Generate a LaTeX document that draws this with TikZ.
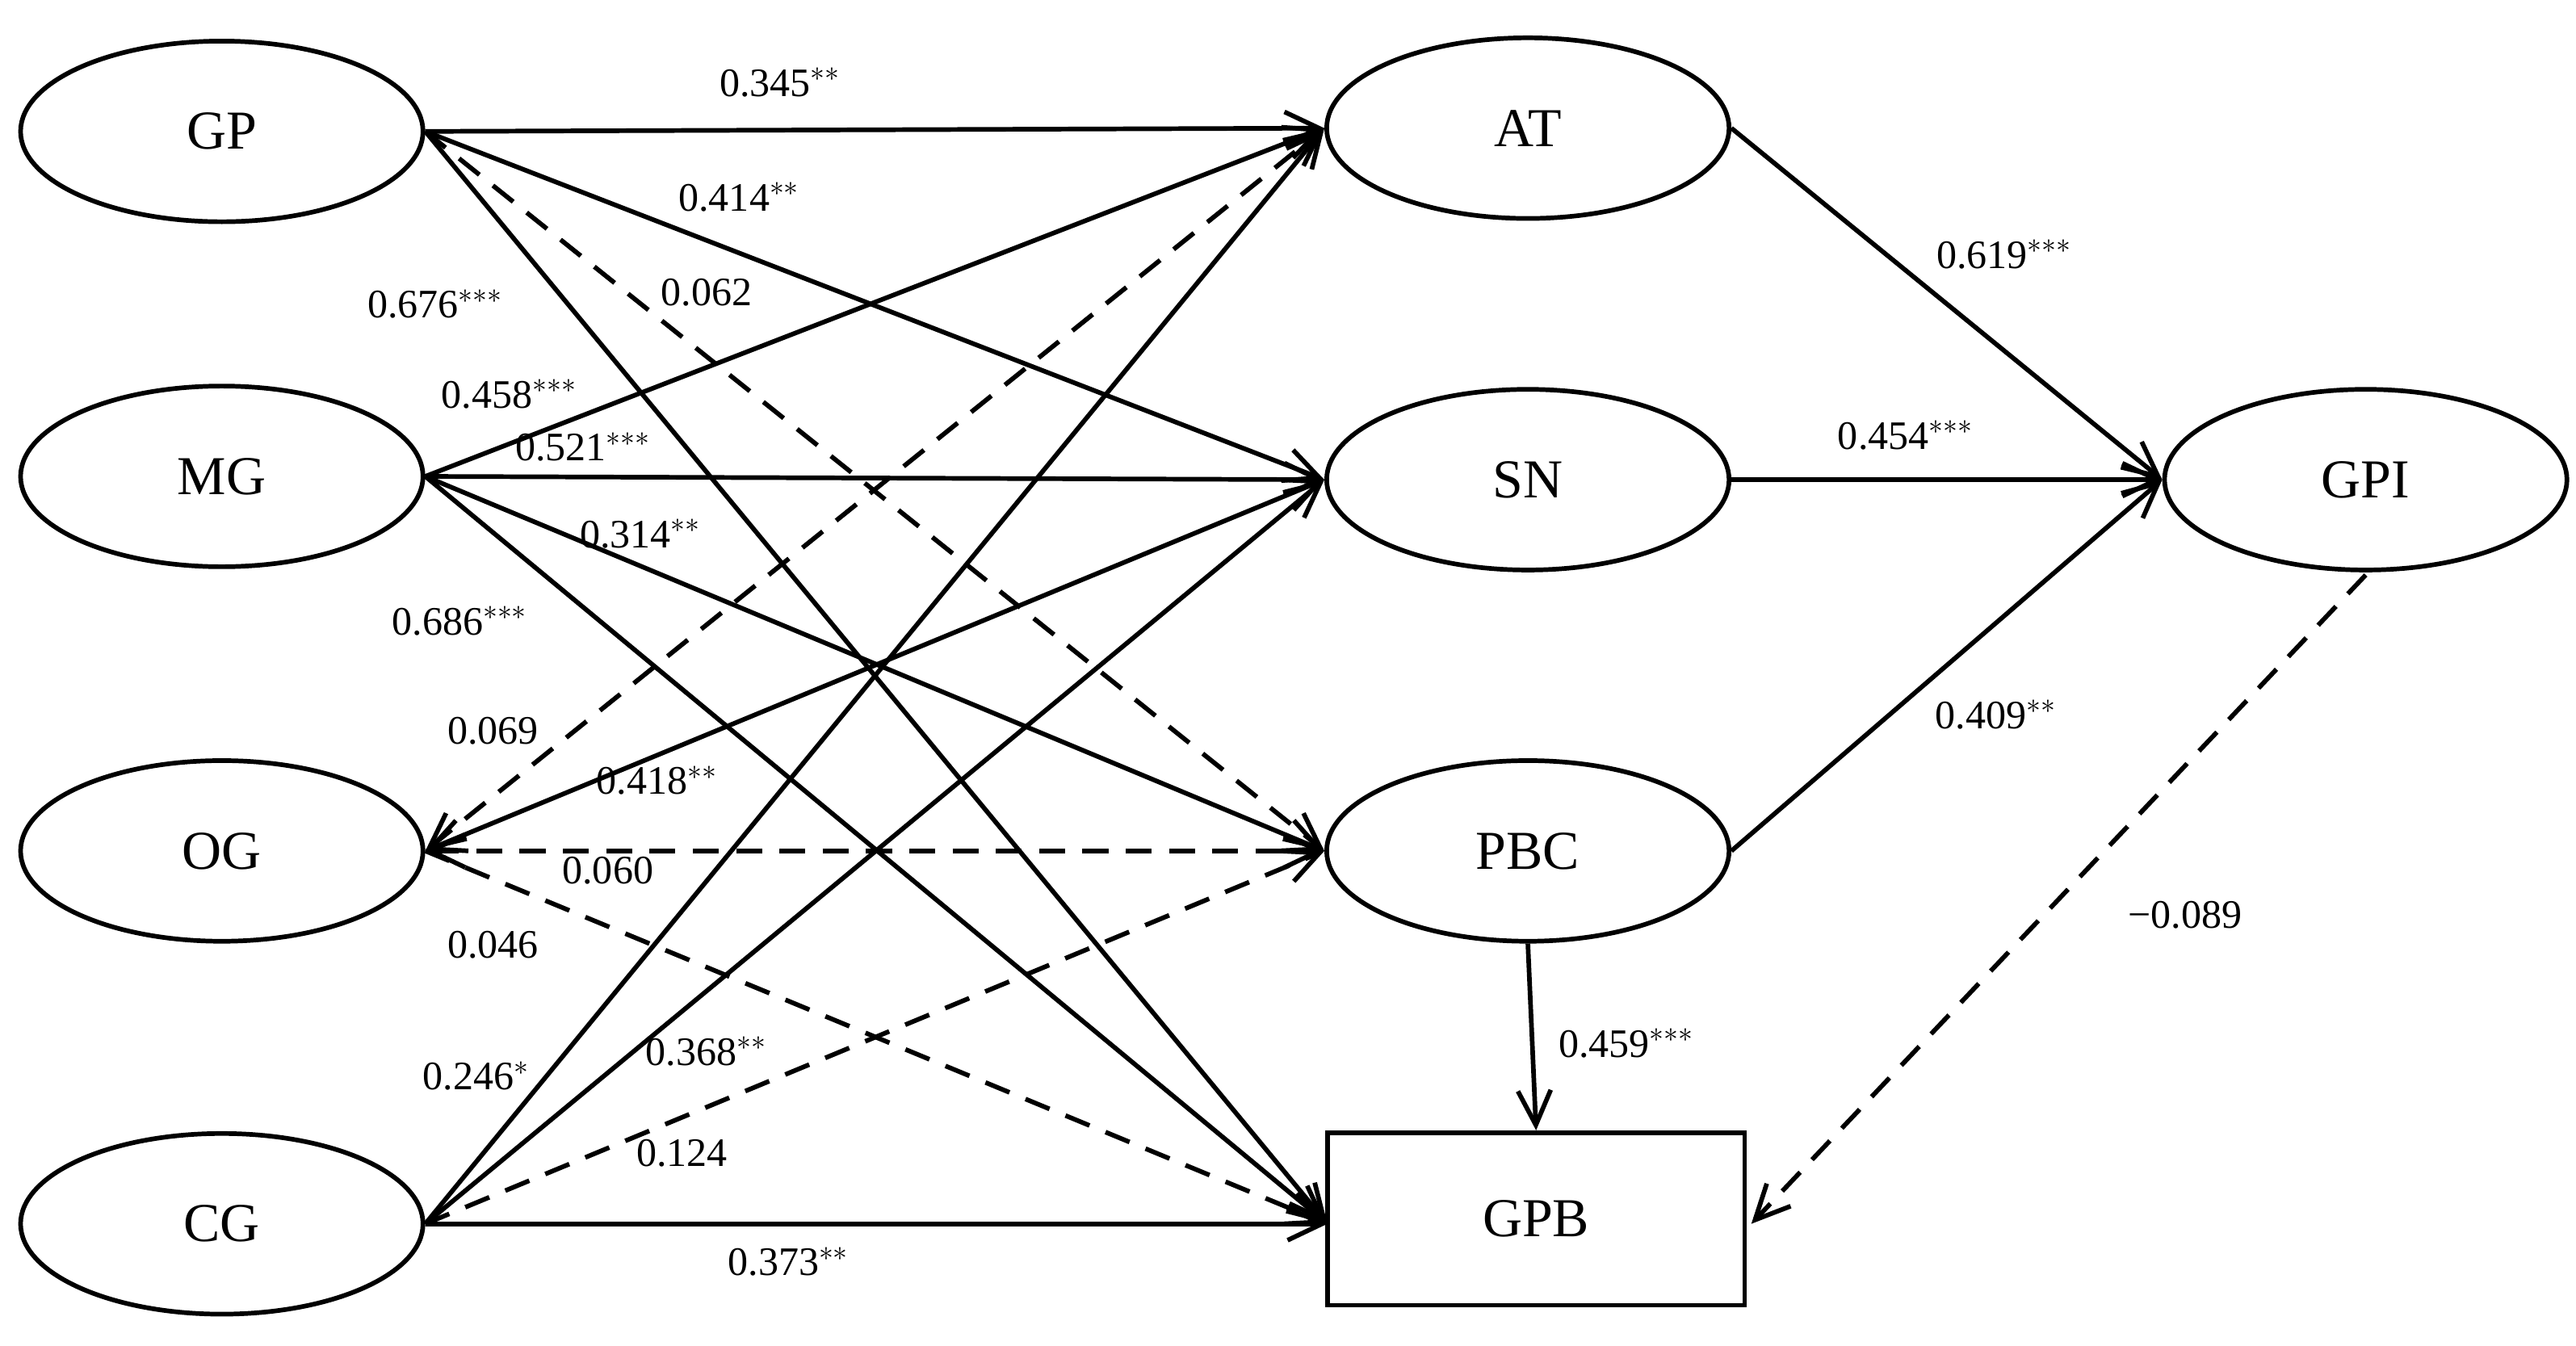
\documentclass[tikz,border=0pt]{standalone}
\usepackage{fontspec}
\setmainfont{Liberation Serif}
\usetikzlibrary{arrows.meta,shapes.geometric}
\begin{document}
\begin{tikzpicture}[x=0.02cm,y=-0.02cm,
  el/.style={draw,ellipse,line width=1.6pt,minimum width=4.9cm,minimum height=2.2cm,font=\fontsize{19}{20}\selectfont},
  ar/.style={line width=1.6pt,-{Straight Barb[length=0.42cm,width=0.4cm,line width=1.6pt]}},
  ba/.style={line width=1.6pt,{Straight Barb[length=0.42cm,width=0.4cm,line width=1.6pt]}-{Straight Barb[length=0.42cm,width=0.4cm,line width=1.6pt]}},
  da/.style={dash pattern=on 9pt off 6pt},
  lb/.style={font=\fontsize{14}{15}\selectfont,inner sep=1pt}]
\useasboundingbox (0,0) rectangle (1568,819);
\node[el] (GP) at (135,80) {GP};
\node[el] (MG) at (135,290) {MG};
\node[el] (OG) at (135,518) {OG};
\node[el] (CG) at (135,745) {CG};
\node[el] (AT) at (930,78) {AT};
\node[el] (SN) at (930,292) {SN};
\node[el] (PBC) at (930,518) {PBC};
\node[el] (GPI) at (1440,292) {GPI};
\node[draw,line width=1.6pt,minimum width=5.08cm,minimum height=2.1cm,font=\fontsize{19}{20}\selectfont] (GPB) at (935,742) {GPB};
\coordinate (GPBw) at (808,745);
\coordinate (GPIb) at (1440,350);
\coordinate (GPBr) at (1066,745);
% GP
\draw[ar] (GP.east) -- (AT.west);
\draw[ar] (GP.east) -- (SN.west);
\draw[ar,da] (GP.east) -- (PBC.west);
\draw[ar] (GP.east) -- (GPBw);
% MG
\draw[ar] (MG.east) -- (AT.west);
\draw[ar] (MG.east) -- (SN.west);
\draw[ar] (MG.east) -- (PBC.west);
\draw[ar] (MG.east) -- (GPBw);
% OG
\draw[ba,da] (OG.east) -- (AT.west);
\draw[ba] (OG.east) -- (SN.west);
\draw[ba,da] (OG.east) -- (PBC.west);
\draw[ar,da] (OG.east) -- (GPBw);
% CG
\draw[ar] (CG.east) -- (AT.west);
\draw[ar] (CG.east) -- (SN.west);
\draw[ar,da] (CG.east) -- (PBC.west);
\draw[ar] (CG.east) -- (GPBw);
% right
\draw[ar] (AT.east) -- (GPI.west);
\draw[ar] (SN.east) -- (GPI.west);
\draw[ar] (PBC.east) -- (GPI.west);
\draw[ar] (PBC.south) -- (GPB.north);
\draw[ar,da] (GPIb) -- (GPBr);
% labels
\node[lb] at (475,50) {0.345$^{**}$};
\node[lb] at (450,120) {0.414$^{**}$};
\node[lb] at (430,178) {0.062};
\node[lb] at (265,185) {0.676$^{***}$};
\node[lb] at (310,240) {0.458$^{***}$};
\node[lb] at (355,272) {0.521$^{***}$};
\node[lb] at (390,325) {0.314$^{**}$};
\node[lb] at (280,378) {0.686$^{***}$};
\node[lb] at (300,445) {0.069};
\node[lb] at (400,475) {0.418$^{**}$};
\node[lb] at (370,530) {0.060};
\node[lb] at (300,575) {0.046};
\node[lb] at (290,655) {0.246$^{*}$};
\node[lb] at (430,640) {0.368$^{**}$};
\node[lb] at (415,702) {0.124};
\node[lb] at (480,768) {0.373$^{**}$};
\node[lb] at (1220,155) {0.619$^{***}$};
\node[lb] at (1160,265) {0.454$^{***}$};
\node[lb] at (1215,435) {0.409$^{**}$};
\node[lb] at (1330,557) {−0.089};
\node[lb] at (990,635) {0.459$^{***}$};
\end{tikzpicture}
\end{document}
